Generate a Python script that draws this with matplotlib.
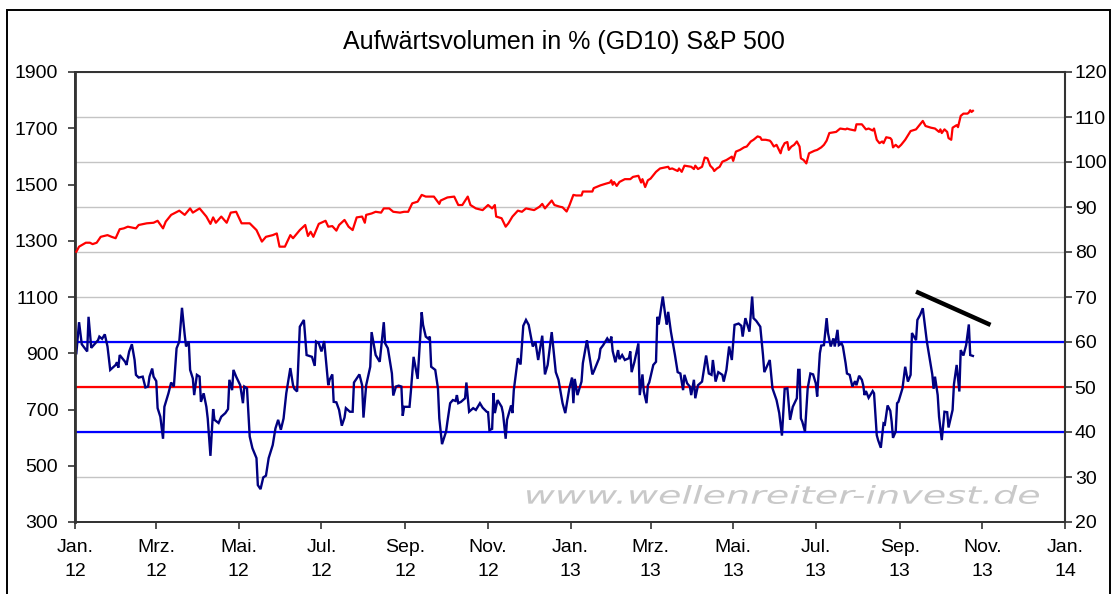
import matplotlib
matplotlib.use("Agg")
import matplotlib.pyplot as plt
import matplotlib.dates as mdates
from matplotlib.textpath import TextPath
from matplotlib.patches import PathPatch, Rectangle
from matplotlib.font_manager import FontProperties
from matplotlib.transforms import Affine2D, IdentityTransform
import pandas as pd

# ---------------- data ----------------
title = "Aufwärtsvolumen in % (GD10) S&P 500"
watermark = "www.wellenreiter-invest.de"

sp_dates = [
    "2012-01-02", "2012-01-04", "2012-01-09", "2012-01-12", "2012-01-14", "2012-01-17", "2012-01-20",
    "2012-01-25", "2012-01-28", "2012-01-31", "2012-02-03", "2012-02-06", "2012-02-09", "2012-02-12",
    "2012-02-15", "2012-02-17", "2012-02-23", "2012-02-28", "2012-03-02", "2012-03-06", "2012-03-08",
    "2012-03-12", "2012-03-14", "2012-03-18", "2012-03-22", "2012-03-26", "2012-03-28", "2012-04-02",
    "2012-04-07", "2012-04-10", "2012-04-12", "2012-04-14", "2012-04-18", "2012-04-22", "2012-04-25",
    "2012-04-29", "2012-05-03", "2012-05-09", "2012-05-14", "2012-05-18", "2012-05-21", "2012-05-26",
    "2012-05-29", "2012-05-31", "2012-06-04", "2012-06-08", "2012-06-10", "2012-06-15", "2012-06-19",
    "2012-06-21", "2012-06-23", "2012-06-25", "2012-06-29", "2012-07-04", "2012-07-06", "2012-07-09",
    "2012-07-12", "2012-07-14", "2012-07-18", "2012-07-21", "2012-07-24", "2012-07-27", "2012-07-31",
    "2012-08-02", "2012-08-03", "2012-08-07", "2012-08-10", "2012-08-14", "2012-08-16", "2012-08-20",
    "2012-08-23", "2012-08-28", "2012-08-31", "2012-09-03", "2012-09-06", "2012-09-10", "2012-09-13",
    "2012-09-16", "2012-09-22", "2012-09-26", "2012-09-27", "2012-10-02", "2012-10-07", "2012-10-10",
    "2012-10-13", "2012-10-17", "2012-10-19", "2012-10-23", "2012-10-28", "2012-11-01", "2012-11-04",
    "2012-11-06", "2012-11-07", "2012-11-11", "2012-11-14", "2012-11-16", "2012-11-19", "2012-11-23",
    "2012-11-26", "2012-11-29", "2012-12-05", "2012-12-09", "2012-12-11", "2012-12-13", "2012-12-18",
    "2012-12-20", "2012-12-24", "2012-12-26", "2012-12-29", "2012-12-31",
    "2013-01-03", "2013-01-05", "2013-01-09", "2013-01-10", "2013-01-17", "2013-01-18", "2013-01-23",
    "2013-01-27", "2013-01-30", "2013-01-31", "2013-02-01", "2013-02-02", "2013-02-04", "2013-02-06",
    "2013-02-10", "2013-02-14", "2013-02-16", "2013-02-20", "2013-02-22", "2013-02-23", "2013-02-25",
    "2013-02-27", "2013-03-01", "2013-03-05", "2013-03-08", "2013-03-14", "2013-03-15", "2013-03-17",
    "2013-03-21", "2013-03-22", "2013-03-24", "2013-03-26", "2013-03-31", "2013-04-02", "2013-04-03",
    "2013-04-05", "2013-04-08", "2013-04-10", "2013-04-12", "2013-04-14", "2013-04-16", "2013-04-17",
    "2013-04-19", "2013-04-21", "2013-04-23", "2013-04-26", "2013-04-28", "2013-04-30", "2013-05-01",
    "2013-05-03", "2013-05-06", "2013-05-09", "2013-05-11", "2013-05-14", "2013-05-16", "2013-05-19",
    "2013-05-21", "2013-05-22", "2013-05-25", "2013-05-28", "2013-05-29", "2013-05-31", "2013-06-02",
    "2013-06-05", "2013-06-06", "2013-06-08", "2013-06-10", "2013-06-11", "2013-06-13", "2013-06-15",
    "2013-06-17", "2013-06-19", "2013-06-20", "2013-06-22", "2013-06-24", "2013-06-26", "2013-06-30",
    "2013-07-02", "2013-07-05", "2013-07-07", "2013-07-09", "2013-07-11", "2013-07-16", "2013-07-19",
    "2013-07-23", "2013-07-24", "2013-07-26", "2013-07-30", "2013-07-31", "2013-08-04", "2013-08-07",
    "2013-08-09", "2013-08-12", "2013-08-13", "2013-08-15", "2013-08-17", "2013-08-19", "2013-08-20",
    "2013-08-22", "2013-08-25", "2013-08-26", "2013-08-27", "2013-08-29", "2013-08-31", "2013-09-02",
    "2013-09-05", "2013-09-09", "2013-09-13", "2013-09-15", "2013-09-18", "2013-09-20", "2013-09-24",
    "2013-09-27", "2013-09-30", "2013-10-01", "2013-10-02", "2013-10-04", "2013-10-06", "2013-10-07",
    "2013-10-09", "2013-10-10", "2013-10-13", "2013-10-14", "2013-10-16", "2013-10-18", "2013-10-21",
    "2013-10-22", "2013-10-23", "2013-10-24", "2013-10-25",
]
sp_values = [
    1261, 1279, 1293, 1293, 1288, 1293, 1314,
    1320, 1314, 1309, 1341, 1344, 1350, 1347,
    1344, 1356, 1362, 1364, 1371, 1344, 1368,
    1392, 1397, 1407, 1392, 1415, 1400, 1415,
    1386, 1360, 1383, 1364, 1386, 1364, 1400,
    1403, 1362, 1362, 1338, 1297, 1314, 1320,
    1326, 1279, 1279, 1320, 1309, 1338, 1356,
    1317, 1332, 1314, 1360, 1371, 1350, 1352,
    1336, 1356, 1374, 1350, 1338, 1383, 1386,
    1364, 1392, 1397, 1403, 1400, 1415, 1415,
    1403, 1400, 1403, 1403, 1433, 1439, 1463,
    1457, 1457, 1431, 1443, 1454, 1457, 1427,
    1427, 1457, 1427, 1415, 1409, 1427, 1415,
    1427, 1386, 1380, 1350, 1362, 1386, 1407,
    1403, 1415, 1409, 1421, 1431, 1415, 1443,
    1427, 1421, 1419, 1404, 1425,
    1463, 1461, 1461, 1475, 1475, 1487, 1497,
    1503, 1507, 1515, 1499, 1509, 1495, 1509,
    1519, 1519, 1527, 1531, 1507, 1519, 1491,
    1515, 1521, 1545, 1557, 1563, 1555, 1557,
    1548, 1557, 1545, 1567, 1563, 1555, 1567,
    1555, 1563, 1596, 1593, 1567, 1557, 1548,
    1557, 1563, 1581, 1587, 1593, 1599, 1584,
    1617, 1623, 1632, 1635, 1653, 1659, 1671,
    1668, 1659, 1659, 1656, 1651, 1635, 1641,
    1611, 1629, 1647, 1651, 1623, 1635, 1641,
    1653, 1635, 1593, 1587, 1575, 1611, 1620,
    1623, 1632, 1641, 1656, 1683, 1687, 1699,
    1696, 1699, 1696, 1692, 1714, 1714, 1696,
    1699, 1692, 1699, 1659, 1647, 1653, 1647,
    1668, 1665, 1659, 1632, 1641, 1632, 1641,
    1659, 1690, 1696, 1708, 1726, 1708, 1702,
    1699, 1687, 1696, 1683, 1696, 1687, 1665,
    1659, 1702, 1711, 1704, 1744, 1752, 1752,
    1756, 1764, 1758, 1762,
]

ind_dates = [
    "2012-01-02", "2012-01-04", "2012-01-06", "2012-01-10", "2012-01-11", "2012-01-13", "2012-01-18",
    "2012-01-19", "2012-01-21", "2012-01-23", "2012-01-25", "2012-01-27", "2012-01-31", "2012-02-01",
    "2012-02-02", "2012-02-03", "2012-02-07", "2012-02-08", "2012-02-10", "2012-02-12", "2012-02-14",
    "2012-02-15", "2012-02-17", "2012-02-20", "2012-02-22", "2012-02-24", "2012-02-25", "2012-02-27",
    "2012-02-28", "2012-03-01", "2012-03-02", "2012-03-04", "2012-03-06", "2012-03-07", "2012-03-10",
    "2012-03-12", "2012-03-14", "2012-03-16", "2012-03-18", "2012-03-20", "2012-03-22", "2012-03-23",
    "2012-03-25", "2012-03-26", "2012-03-28", "2012-03-29", "2012-03-31", "2012-04-02", "2012-04-03",
    "2012-04-05", "2012-04-07", "2012-04-08", "2012-04-10", "2012-04-12", "2012-04-13", "2012-04-16",
    "2012-04-18", "2012-04-21", "2012-04-23", "2012-04-24", "2012-04-26", "2012-04-27", "2012-04-29",
    "2012-05-02", "2012-05-04", "2012-05-05", "2012-05-07", "2012-05-09", "2012-05-11", "2012-05-14",
    "2012-05-15", "2012-05-17", "2012-05-19", "2012-05-21", "2012-05-23", "2012-05-26", "2012-05-28",
    "2012-05-30", "2012-06-01", "2012-06-03", "2012-06-05", "2012-06-08", "2012-06-10", "2012-06-11",
    "2012-06-13", "2012-06-15", "2012-06-18", "2012-06-20", "2012-06-24", "2012-06-26", "2012-06-27",
    "2012-06-29", "2012-07-01", "2012-07-03", "2012-07-06", "2012-07-07", "2012-07-09", "2012-07-10",
    "2012-07-12", "2012-07-14", "2012-07-16", "2012-07-18", "2012-07-19", "2012-07-22", "2012-07-24",
    "2012-07-25", "2012-07-29", "2012-07-31", "2012-08-01", "2012-08-03", "2012-08-06", "2012-08-07",
    "2012-08-10", "2012-08-13", "2012-08-16", "2012-08-17", "2012-08-19", "2012-08-22", "2012-08-23",
    "2012-08-25", "2012-08-27", "2012-08-29", "2012-08-30", "2012-08-31", "2012-09-04", "2012-09-05",
    "2012-09-07", "2012-09-10", "2012-09-11", "2012-09-13", "2012-09-14", "2012-09-16", "2012-09-18",
    "2012-09-19", "2012-09-20", "2012-09-23", "2012-09-25", "2012-09-26", "2012-09-28", "2012-10-01",
    "2012-10-02", "2012-10-04", "2012-10-06", "2012-10-08", "2012-10-09", "2012-10-10", "2012-10-12",
    "2012-10-15", "2012-10-16", "2012-10-18", "2012-10-21", "2012-10-23", "2012-10-26", "2012-10-28",
    "2012-10-31", "2012-11-01", "2012-11-02", "2012-11-04", "2012-11-05", "2012-11-06", "2012-11-08",
    "2012-11-11", "2012-11-12", "2012-11-14", "2012-11-15", "2012-11-18", "2012-11-19", "2012-11-20",
    "2012-11-23", "2012-11-25", "2012-11-27", "2012-11-29", "2012-12-01", "2012-12-04", "2012-12-06",
    "2012-12-08", "2012-12-11", "2012-12-13", "2012-12-15", "2012-12-18", "2012-12-21", "2012-12-23",
    "2012-12-26", "2012-12-28", "2012-12-31",
    "2013-01-02", "2013-01-03", "2013-01-04", "2013-01-06", "2013-01-09", "2013-01-10", "2013-01-13",
    "2013-01-17", "2013-01-18", "2013-01-22", "2013-01-23", "2013-01-25", "2013-01-28", "2013-01-30",
    "2013-01-31", "2013-02-01", "2013-02-03", "2013-02-05", "2013-02-06", "2013-02-08", "2013-02-10",
    "2013-02-13", "2013-02-14", "2013-02-15", "2013-02-17", "2013-02-20", "2013-02-21", "2013-02-23",
    "2013-02-24", "2013-02-26", "2013-02-27", "2013-02-28", "2013-03-03", "2013-03-05", "2013-03-06",
    "2013-03-07", "2013-03-10", "2013-03-12", "2013-03-13", "2013-03-14", "2013-03-16", "2013-03-19",
    "2013-03-21", "2013-03-23", "2013-03-25", "2013-03-26", "2013-03-28", "2013-03-30", "2013-03-31",
    "2013-04-02", "2013-04-03", "2013-04-05", "2013-04-08", "2013-04-11", "2013-04-13", "2013-04-15",
    "2013-04-16", "2013-04-18", "2013-04-20", "2013-04-23", "2013-04-24", "2013-04-26", "2013-04-28",
    "2013-04-30", "2013-05-02", "2013-05-05", "2013-05-07", "2013-05-08", "2013-05-10", "2013-05-13",
    "2013-05-15", "2013-05-16", "2013-05-18", "2013-05-21", "2013-05-23", "2013-05-24", "2013-05-28",
    "2013-05-30", "2013-06-02", "2013-06-04", "2013-06-06", "2013-06-08", "2013-06-10", "2013-06-12",
    "2013-06-14", "2013-06-17", "2013-06-18", "2013-06-19", "2013-06-20", "2013-06-21", "2013-06-23",
    "2013-06-25", "2013-06-27", "2013-06-29", "2013-07-01", "2013-07-02", "2013-07-04", "2013-07-05",
    "2013-07-07", "2013-07-09", "2013-07-10", "2013-07-12", "2013-07-14", "2013-07-15", "2013-07-17",
    "2013-07-18", "2013-07-20", "2013-07-21", "2013-07-23", "2013-07-24", "2013-07-26", "2013-07-28",
    "2013-07-30", "2013-07-31", "2013-08-02", "2013-08-04", "2013-08-05", "2013-08-06", "2013-08-07",
    "2013-08-09", "2013-08-12", "2013-08-13", "2013-08-15", "2013-08-16", "2013-08-18", "2013-08-20",
    "2013-08-21", "2013-08-23", "2013-08-25", "2013-08-26", "2013-08-27", "2013-08-29", "2013-08-30",
    "2013-08-31", "2013-09-03", "2013-09-05", "2013-09-07", "2013-09-09", "2013-09-10", "2013-09-13",
    "2013-09-14", "2013-09-16", "2013-09-18", "2013-09-21", "2013-09-25", "2013-09-26", "2013-09-27",
    "2013-09-29", "2013-09-30", "2013-10-02", "2013-10-04", "2013-10-06", "2013-10-07", "2013-10-10",
    "2013-10-11", "2013-10-13", "2013-10-15", "2013-10-16", "2013-10-18", "2013-10-20", "2013-10-22",
    "2013-10-23", "2013-10-25",
]
ind_values = [
    57.5, 64.4, 59.5, 57.9, 65.6, 58.7, 60.4,
    61.2, 60.7, 61.7, 59.0, 53.8, 54.9, 55.5,
    54.3, 57.1, 55.6, 54.9, 57.9, 59.5, 56.0,
    52.7, 52.1, 52.3, 49.9, 50.1, 52.3, 54.1,
    52.3, 51.3, 45.3, 43.4, 38.5, 45.6, 48.6,
    51.0, 50.1, 58.6, 60.1, 67.6, 61.6, 59.0,
    60.1, 53.8, 51.9, 48.2, 52.7, 52.3, 46.7,
    48.6, 45.6, 43.0, 34.7, 45.1, 42.7, 42.0,
    43.4, 44.2, 45.1, 51.6, 49.3, 53.8, 52.3,
    50.4, 46.4, 50.1, 49.7, 39.0, 36.4, 34.2,
    28.2, 27.3, 29.9, 30.3, 34.2, 37.1, 40.8,
    42.7, 40.5, 43.0, 48.6, 54.2, 50.4, 49.6,
    49.0, 63.4, 64.9, 57.1, 56.7, 54.7, 60.1,
    59.7, 57.9, 60.2, 50.4, 51.6, 52.8, 46.7,
    46.6, 44.9, 41.4, 43.2, 45.3, 44.5, 44.5,
    51.0, 52.8, 50.4, 43.2, 50.4, 54.5, 62.2,
    57.1, 55.6, 64.4, 59.7, 58.6, 53.0, 48.1,
    50.1, 50.3, 50.1, 43.6, 45.6, 45.6, 49.0,
    56.7, 51.8, 56.7, 66.6, 63.8, 61.2, 60.7,
    61.2, 54.5, 53.8, 49.7, 43.0, 37.3, 40.1,
    42.3, 46.4, 47.1, 46.9, 48.2, 46.4, 46.7,
    47.5, 51.0, 44.5, 45.3, 44.9, 46.4, 45.4,
    44.5, 44.4, 40.4, 40.7, 48.6, 44.2, 47.1,
    45.6, 44.2, 38.5, 42.7, 45.9, 44.2, 49.3,
    56.4, 55.0, 63.6, 64.9, 63.8, 59.0, 60.0,
    56.0, 61.4, 52.8, 54.9, 62.2, 53.3, 51.6,
    46.4, 44.2, 49.7,
    52.1, 46.4, 51.8, 48.2, 51.2, 55.3, 60.4,
    52.8, 53.4, 56.4, 58.5, 59.3, 60.8, 59.9,
    61.2, 58.0, 55.5, 58.2, 56.2, 57.1, 56.0,
    56.4, 57.9, 53.3, 55.5, 59.7, 48.2, 52.8,
    49.0, 46.4, 50.4, 51.0, 54.9, 55.6, 65.6,
    63.9, 70.1, 65.6, 63.9, 66.7, 62.3, 57.1,
    53.3, 53.0, 49.3, 52.7, 50.8, 50.1, 48.2,
    51.6, 47.5, 50.4, 51.2, 57.0, 53.0, 52.7,
    56.0, 51.2, 53.3, 52.7, 51.2, 53.8, 59.0,
    56.0, 63.8, 64.1, 63.6, 61.2, 65.3, 62.3,
    70.1, 65.3, 64.7, 63.4, 57.1, 53.3, 56.0,
    49.7, 47.1, 44.2, 39.2, 49.6, 49.7, 42.7,
    45.6, 47.5, 53.8, 53.8, 43.0, 42.3, 40.1,
    49.7, 53.0, 52.8, 50.8, 47.9, 57.5, 59.2,
    59.3, 65.3, 62.0, 59.0, 60.8, 59.0, 62.7,
    59.3, 59.7, 59.0, 55.3, 53.0, 52.7, 50.1,
    51.3, 50.4, 52.5, 51.6, 50.4, 48.2, 49.1,
    47.6, 49.1, 48.6, 39.3, 38.2, 36.5, 41.9,
    41.7, 45.9, 44.7, 42.3, 38.7, 40.1, 46.4,
    46.7, 49.7, 54.5, 51.2, 52.7, 62.0, 60.4,
    64.9, 66.0, 67.5, 60.1, 52.8, 49.6, 52.3,
    48.2, 43.4, 38.2, 44.5, 44.4, 41.0, 44.9,
    50.6, 54.9, 49.0, 58.2, 57.0, 59.3, 63.9,
    57.1, 56.9,
]

level_high, level_mid, level_low = 60, 50, 40
trend_dates = ["2013-09-13", "2013-11-07"]
trend_values = [71.2, 63.8]

left_ticks = [300, 500, 700, 900, 1100, 1300, 1500, 1700, 1900]
right_ticks = [20, 30, 40, 50, 60, 70, 80, 90, 100, 110, 120]
x_tick_dates = pd.date_range("2012-01-01", "2014-01-01", freq="2MS")
x_tick_labels = ["Jan.\n12", "Mrz.\n12", "Mai.\n12", "Jul.\n12", "Sep.\n12", "Nov.\n12",
                 "Jan.\n13", "Mrz.\n13", "Mai.\n13", "Jul.\n13", "Sep.\n13", "Nov.\n13",
                 "Jan.\n14"]

# ---------------- plot ----------------
plt.rcParams['font.family'] = ['Liberation Sans', 'DejaVu Sans']
W, H = 1120, 594
fig = plt.figure(figsize=(W / 100, H / 100), dpi=100)
fig.patch.set_facecolor("white")

ax = fig.add_axes([75 / W, 1 - 522 / H, 990 / W, 450 / H])
ax2 = ax.twinx()
# right axis (indicator, grid) behind, left axis (S&P) on top
ax.set_zorder(ax2.get_zorder() + 1)
ax.patch.set_visible(False)
ax2.patch.set_facecolor("white")

sp_x = pd.to_datetime(sp_dates)
ind_x = pd.to_datetime(ind_dates)

ax2.grid(True, color="#c4c4c4", linewidth=1.0)
ax2.set_axisbelow(True)

ax2.axhline(level_high, color="#0000ff", lw=1.6, zorder=2)
ax2.axhline(level_mid, color="#ff0000", lw=1.6, zorder=2)
ax2.axhline(level_low, color="#0000ff", lw=1.6, zorder=2)
ax2.plot(ind_x, ind_values, color="#000080", lw=1.7, zorder=3, solid_joinstyle="miter")
ax2.plot(pd.to_datetime(trend_dates), trend_values, color="black", lw=3.2,
         solid_capstyle="butt", zorder=4)

ax.plot(sp_x, sp_values, color="#ff0000", lw=1.6, zorder=3)

ax.set_xlim(pd.Timestamp("2012-01-01"), pd.Timestamp("2014-01-01"))
ax.set_ylim(300, 1900)
ax2.set_ylim(20, 120)
ax.set_yticks(left_ticks)
ax2.set_yticks(right_ticks)
ax.set_xticks(x_tick_dates)
ax.set_xticklabels(x_tick_labels)
for lbl in ax.get_xticklabels():
    lbl.set_linespacing(1.55)

ax.tick_params(axis="y", which="both", direction="out", length=5, width=1.2,
               color="#333333", labelsize=14, pad=7)
ax.tick_params(axis="x", direction="out", length=5, width=1.2, color="#333333",
               labelsize=14, pad=7)
ax2.tick_params(axis="y", direction="out", length=5, width=1.2, color="#333333",
                labelsize=14, pad=2)

for a in (ax, ax2):
    for s in a.spines.values():
        s.set_color("#333333")
        s.set_linewidth(1.3)
ax.spines["left"].set_linewidth(2.0)
ax2.spines["right"].set_linewidth(1.5)

# watermark (stretched text)
fp = FontProperties(family="DejaVu Sans", style="oblique")
tp = TextPath((0, 0), watermark, size=100, prop=fp)
bb = tp.get_extents()
sx = 512 / bb.width
sy = 19 / bb.height
tr = Affine2D().translate(-bb.x0, -bb.y0).scale(sx, sy).translate(527, H - 504)
wm = PathPatch(tp, transform=tr + IdentityTransform(), facecolor="#c9c9c9",
               edgecolor="none", zorder=1, clip_on=False)
ax2.add_artist(wm)

fig.text(564 / W, 1 - 42 / H, title, ha="center", va="center", fontsize=18)

fig.patches.append(Rectangle((7 / W, -0.05), (1110 - 7) / W, (H - 10) / H + 0.05,
                             transform=fig.transFigure, fill=False,
                             edgecolor="black", linewidth=1.4))

fig.savefig("out.png", dpi=100)
